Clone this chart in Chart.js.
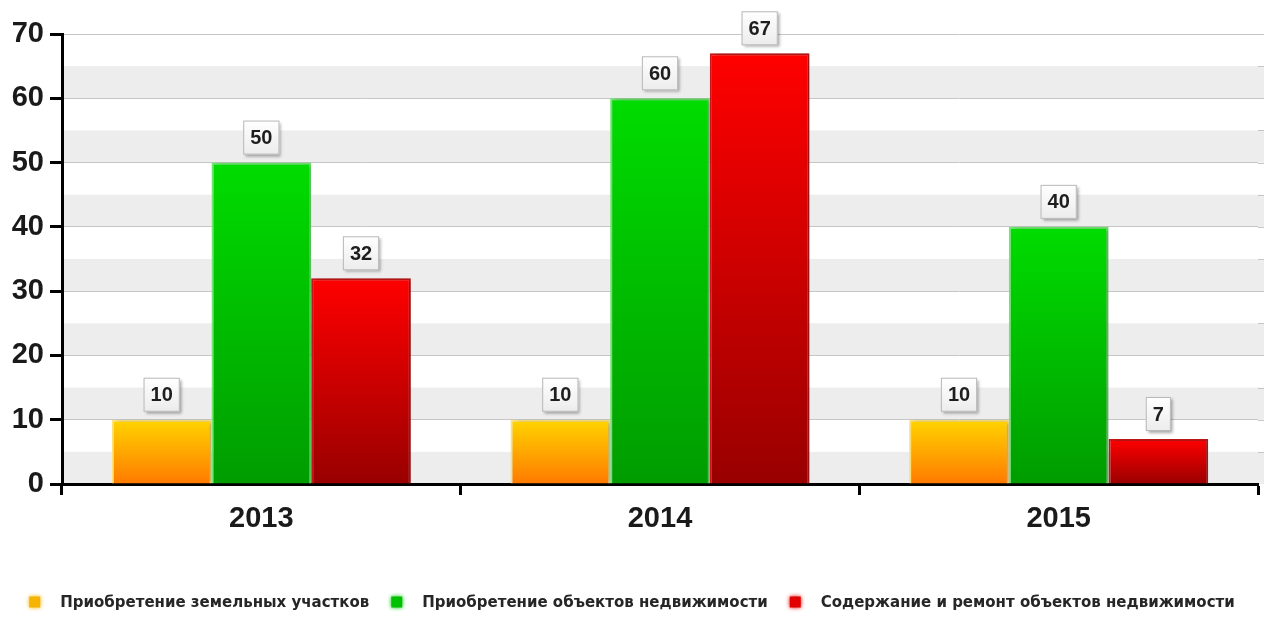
<!DOCTYPE html>
<html>
<head>
<meta charset="utf-8">
<script src="https://cdn.jsdelivr.net/npm/chart.js@4.4.1/dist/chart.umd.min.js"></script>
<style>
  html, body { margin: 0; padding: 0; background: #ffffff; }
  #wrap { width: 1264px; height: 619px; position: relative; }
</style>
</head>
<body>
<div id="wrap"><canvas id="c" width="1264" height="619"></canvas></div>
<script>
// ---- data ----
const categories = ['2013', '2014', '2015'];
const seriesNames = [
  'Приобретение земельных участков',
  'Приобретение объектов недвижимости',
  'Содержание и ремонт объектов недвижимости'
];
const landValues = [10, 10, 10];
const realtyValues = [50, 60, 40];
const maintenanceValues = [32, 67, 7];
const yMin = 0;
const yMax = 70;
const yGridStep = 5;
const yLabelStep = 10;

// ---- styles ----
const fills = [
  { top: '#ffd400', bottom: '#ff7a00', border: '#ffe27a', legend: '#f5b400' },
  { top: '#00dc00', bottom: '#009c00', border: '#6fe86f', legend: '#00c000' },
  { top: '#ff0000', bottom: '#990000', border: '#c81818', legend: '#e00000' }
];

function gradientFor(idx) {
  return function (ctx) {
    const chart = ctx.chart;
    const f = fills[idx];
    if (!chart.chartArea || ctx.type !== 'data') return f.bottom;
    const ys = chart.scales.y;
    const y0 = ys.getPixelForValue(ctx.raw);
    const y1 = ys.getPixelForValue(0);
    if (!isFinite(y0) || !isFinite(y1) || y0 === y1) return f.bottom;
    const g = chart.ctx.createLinearGradient(0, y0, 0, y1);
    g.addColorStop(0, f.top);
    g.addColorStop(1, f.bottom);
    return g;
  };
}

const seriesData = [landValues, realtyValues, maintenanceValues];

const bandsPlugin = {
  id: 'bands',
  beforeDraw(chart) {
    const { ctx, chartArea } = chart;
    const ys = chart.scales.y;
    ctx.save();
    ctx.fillStyle = '#ededed';
    for (let v = yMin; v < yMax; v += 2 * yGridStep) {
      const a = ys.getPixelForValue(v);
      const b = ys.getPixelForValue(v + yGridStep);
      ctx.fillRect(chartArea.left, b, chart.width - chartArea.left, a - b);
    }
    ctx.strokeStyle = '#c6c6c6';
    ctx.lineWidth = 1;
    for (let v = yMin + yGridStep; v <= yMax; v += yGridStep) {
      const y = Math.round(ys.getPixelForValue(v)) + 0.5;
      ctx.beginPath();
      ctx.moveTo(chartArea.right, y);
      ctx.lineTo(chart.width, y);
      ctx.stroke();
    }
    ctx.restore();
  }
};

const shadowPlugin = {
  id: 'barShadow',
  beforeDatasetsDraw(chart) {
    const ctx = chart.ctx;
    ctx.save();
    ctx.shadowColor = 'rgba(0,0,0,0.28)';
    ctx.shadowBlur = 5;
    ctx.shadowOffsetX = 3;
    ctx.shadowOffsetY = 0;
  },
  afterDatasetsDraw(chart) {
    chart.ctx.restore();
  }
};

const valueBoxPlugin = {
  id: 'valueBoxes',
  afterDatasetsDraw(chart) {
    const ctx = chart.ctx;
    ctx.save();
    ctx.font = 'bold 20px "Liberation Sans", Arial, sans-serif';
    ctx.textAlign = 'center';
    ctx.textBaseline = 'middle';
    chart.data.datasets.forEach((ds, di) => {
      const meta = chart.getDatasetMeta(di);
      meta.data.forEach((bar, i) => {
        const txt = String(ds.data[i]);
        const w = ctx.measureText(txt).width + 14;
        const h = 34;
        const x = bar.x - w / 2;
        const y = bar.y - 8 - h;
        ctx.save();
        ctx.shadowColor = 'rgba(0,0,0,0.35)';
        ctx.shadowBlur = 3;
        ctx.shadowOffsetX = 2;
        ctx.shadowOffsetY = 2;
        const g = ctx.createLinearGradient(0, y, 0, y + h);
        g.addColorStop(0, '#ffffff');
        g.addColorStop(1, '#ececec');
        ctx.fillStyle = g;
        ctx.fillRect(x, y, w, h);
        ctx.restore();
        ctx.strokeStyle = '#b8b8b8';
        ctx.lineWidth = 1;
        ctx.strokeRect(x + 0.5, y + 0.5, w - 1, h - 1);
        ctx.fillStyle = '#1e1e1e';
        ctx.fillText(txt, bar.x, y + h / 2 + 1);
      });
    });
    ctx.restore();
  }
};

const legendPlugin = {
  id: 'customLegend',
  afterDraw(chart) {
    const ctx = chart.ctx;
    ctx.save();
    ctx.font = 'bold 15px "DejaVu Sans", Verdana, sans-serif';
    ctx.textBaseline = 'middle';
    ctx.textAlign = 'left';
    const box = 11, gapBoxText = 20, gapItems = 22;
    const names = chart.data.datasets.map(d => d.label);
    const widths = names.map(n => ctx.measureText(n).width);
    let total = 0;
    widths.forEach((w, i) => { total += box + gapBoxText + w + (i < widths.length - 1 ? gapItems : 0); });
    let x = (chart.width - total) / 2;
    const cy = 603;
    names.forEach((n, i) => {
      ctx.save();
      ctx.shadowColor = fills[i].legend;
      ctx.shadowBlur = 4;
      ctx.fillStyle = fills[i].legend;
      ctx.fillRect(x, cy - box / 2 - 1, box, box);
      ctx.restore();
      x += box + gapBoxText;
      ctx.fillStyle = '#262626';
      ctx.fillText(n, x, cy);
      x += widths[i] + gapItems;
    });
    ctx.restore();
  }
};

new Chart(document.getElementById('c'), {
  type: 'bar',
  data: {
    labels: categories,
    datasets: seriesData.map((vals, i) => ({
      label: seriesNames[i],
      data: vals,
      backgroundColor: gradientFor(i),
      borderColor: fills[i].border,
      borderWidth: 2,
      borderSkipped: 'bottom',
      categoryPercentage: 0.75,
      barPercentage: 1.0
    }))
  },
  options: {
    responsive: false,
    animation: false,
    devicePixelRatio: 1,
    layout: { padding: { top: 34, right: 6, bottom: 0, left: 0 } },
    plugins: {
      legend: { display: false },
      tooltip: { enabled: false }
    },
    scales: {
      x: {
        offset: true,
        grid: {
          offset: true,
          drawOnChartArea: false,
          drawTicks: true,
          tickLength: 11,
          tickWidth: 3,
          tickColor: '#000000'
        },
        border: { display: true, color: '#000000', width: 3 },
        ticks: {
          color: '#1a1a1a',
          padding: 7,
          font: { family: '"Liberation Sans", Arial, sans-serif', size: 29, weight: 'bold' }
        },
        afterFit(scale) { scale.height = 135; }
      },
      y: {
        min: yMin,
        max: yMax,
        grid: {
          color: '#c6c6c6',
          lineWidth: 1,
          drawTicks: true,
          tickLength: 12,
          tickWidth: 3,
          tickColor: (c) => (c.tick && c.tick.value % yLabelStep === 0) ? '#000000' : 'rgba(0,0,0,0)'
        },
        border: { display: true, color: '#000000', width: 3 },
        ticks: {
          stepSize: yGridStep,
          color: '#1a1a1a',
          padding: 6,
          font: { family: '"Liberation Sans", Arial, sans-serif', size: 29, weight: 'bold' },
          callback: (v) => (v % yLabelStep === 0 ? String(v) : '')
        },
        afterFit(scale) { scale.width = 62; }
      }
    }
  },
  plugins: [bandsPlugin, shadowPlugin, valueBoxPlugin, legendPlugin]
});
</script>
</body>
</html>
